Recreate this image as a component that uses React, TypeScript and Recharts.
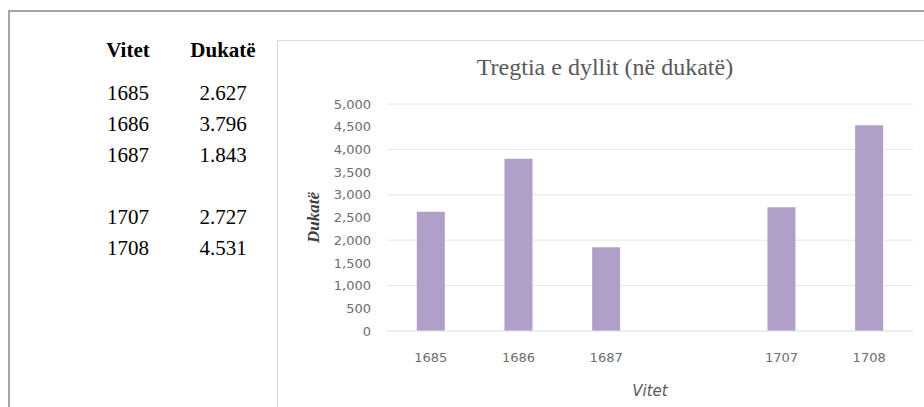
import React from 'react'
import { Bar, BarChart, CartesianGrid, XAxis, YAxis, Label } from 'recharts'

// years shown on the axis; the empty one leaves the gap between 1687 and 1707
const years = ['1685', '1686', '1687', '', '1707', '1708']
const ducats: (number | null)[] = [2627, 3796, 1843, null, 2727, 4531]
const tableValues = ['2.627', '3.796', '1.843', '', '2.727', '4.531']
const yTicks = [0, 500, 1000, 1500, 2000, 2500, 3000, 3500, 4000, 4500, 5000]

const data = years.map((y, i) => ({ year: y, amount: ducats[i] }))

const fmt = (v: number) => v.toLocaleString('en-US')

function App() {
    return (
        <div style={{ position: 'relative', width: 924, height: 407, overflow: 'hidden', background: '#fff' }}>
            <style>{'body{margin:0}'}</style>
            {/* outer page frame */}
            <div style={{ position: 'absolute', left: 8, top: 10, width: 940, height: 420, borderTop: '2px solid #a6a6a6', borderLeft: '2px solid #a6a6a6' }} />

            <table style={{ position: 'absolute', left: 95, top: 38, borderCollapse: 'collapse', fontFamily: '"Liberation Serif", serif', fontSize: 21, color: '#000' }}>
                <thead>
                    <tr style={{ height: 40 }}>
                        <th style={{ width: 66, textAlign: 'center', fontWeight: 'bold', padding: 0, verticalAlign: 'top' }}>Vitet</th>
                        <th style={{ width: 124, textAlign: 'center', fontWeight: 'bold', padding: 0, verticalAlign: 'top' }}>Dukatë</th>
                    </tr>
                </thead>
                <tbody>
                    {years.map((y, i) => (
                        <tr key={i} style={{ height: 31 }}>
                            <td style={{ textAlign: 'center', padding: 0 }}>{y}</td>
                            <td style={{ textAlign: 'center', padding: 0 }}>{tableValues[i]}</td>
                        </tr>
                    ))}
                </tbody>
            </table>

            <div style={{ position: 'absolute', left: 277, top: 40, width: 680, height: 400, border: '1px solid #d9d9d9', boxSizing: 'border-box' }} />
            <div style={{ position: 'absolute', left: 277, top: 54, width: 656, textAlign: 'center', fontFamily: '"Liberation Serif", serif', fontSize: 24, color: '#595959' }}>
                Tregtia e dyllit (në dukatë)
            </div>

            <div style={{ position: 'absolute', left: 277, top: 40 }}>
                <BarChart width={647} height={367} data={data} barCategoryGap="34%"
                    margin={{ top: 64, right: 11, left: 30, bottom: 6 }}>
                    <CartesianGrid vertical={false} stroke="#e6e6e6" />
                    <XAxis dataKey="year" height={70} tickLine={false} axisLine={{ stroke: '#e6e6e6' }} tickMargin={16}
                        tick={{ fontFamily: '"DejaVu Sans", sans-serif', fontSize: 13, fill: '#6e6e6e' }}>
                        <Label value="Vitet" position="insideBottom" offset={5}
                            style={{ fontFamily: '"DejaVu Sans", sans-serif', fontSize: 15, fontStyle: 'italic', fill: '#595959' }} />
                    </XAxis>
                    <YAxis width={80} domain={[0, 5000]} ticks={yTicks} tickFormatter={fmt} tickLine={false} axisLine={false}
                        tickMargin={10} tick={{ fontFamily: '"DejaVu Sans", sans-serif', fontSize: 13, fill: '#6e6e6e' }}>
                        <Label value="Dukatë" angle={-90} position="insideLeft" offset={6}
                            style={{ textAnchor: 'middle', fontFamily: '"Liberation Serif", serif', fontSize: 17, fontStyle: 'italic', fontWeight: 'bold', fill: '#404040' }} />
                    </YAxis>
                    <Bar dataKey="amount" fill="#b09fc8" isAnimationActive={false} />
                </BarChart>
            </div>
        </div>
    )
}

export default App
